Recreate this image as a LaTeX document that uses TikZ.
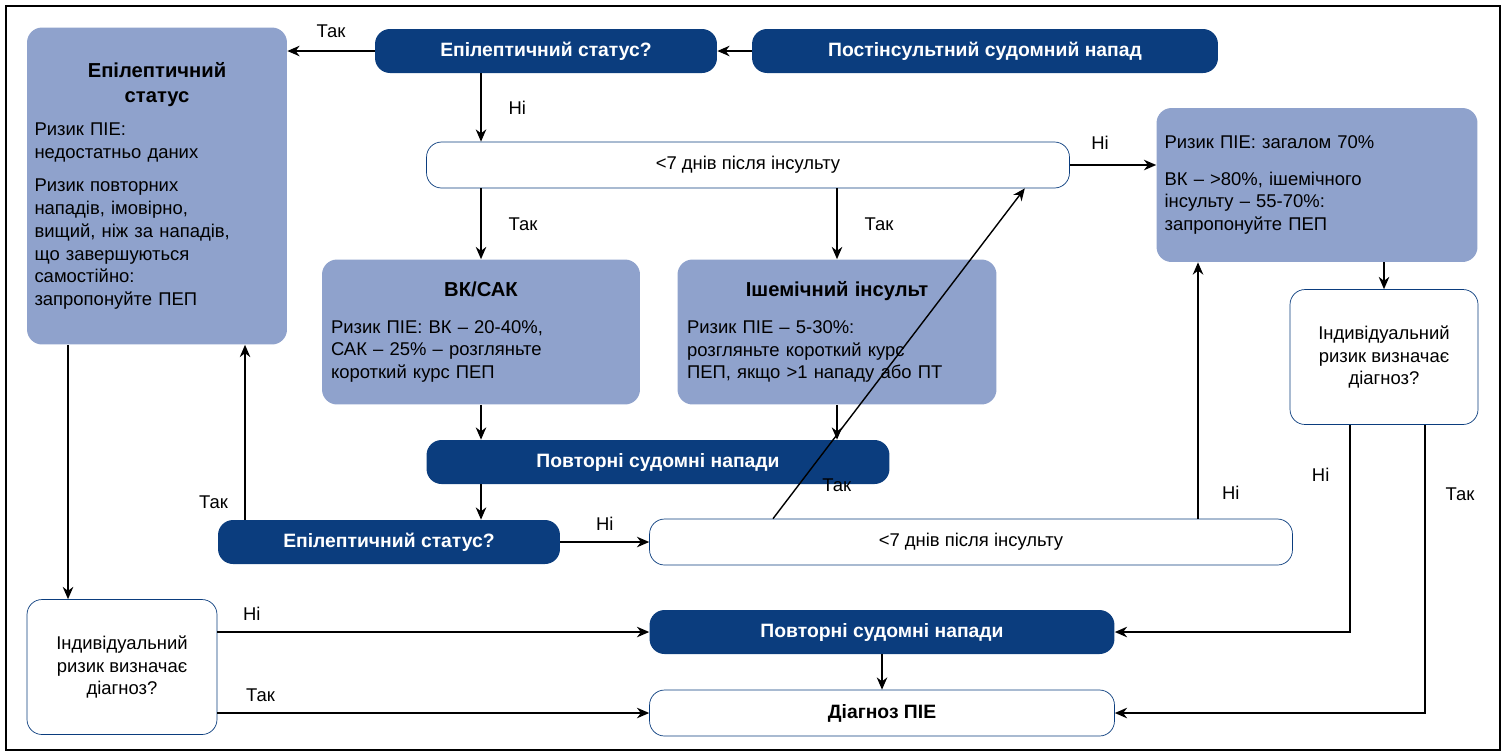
\documentclass[tikz,border=0pt]{standalone}
\usepackage{fontspec}
\setmainfont{Liberation Sans}
\usetikzlibrary{arrows.meta}
\definecolor{darkblue}{HTML}{0B3D7E}
\definecolor{lightblue}{HTML}{8FA2CC}
\tikzset{
  box/.style={rounded corners=3mm, inner sep=4pt, font=\fontsize{10.5}{13}\selectfont},
  dark/.style={box, fill=darkblue, text=white, font=\fontsize{11}{13}\selectfont\bfseries, minimum height=0.88cm},
  light/.style={box, fill=lightblue, text=black, align=left},
  plain/.style={box, draw=darkblue, fill=white, minimum height=0.92cm},
  lbl/.style={font=\fontsize{10.5}{13}\selectfont},
  arr/.style={-{Stealth[length=7pt,width=6pt]}, thick},
}
\begin{document}
\begin{tikzpicture}[x=0.02cm, y=-0.02cm]
			% Rahmen
			\useasboundingbox (0,0) rectangle (1506,755);
			\draw[thick] (6,6) rectangle (1500,750);
			
			% obere Zeile
			\node[dark, minimum width=6.84cm] (es1) at (546,51) {Епілептичний статус?};
			\node[dark, minimum width=9.32cm] (pisn) at (985,51) {Постінсультний судомний напад};
			\node[light, minimum width=5.2cm, minimum height=6.34cm, text width=4.9cm] (esbox) at (157,186)
				{{\centering\bfseries\fontsize{11.5}{14}\selectfont Епілептичний\\статус\par}\vspace{6pt}
				Ризик ПІЕ:\\недостатньо даних\par\vspace{6pt}
				Ризик повторних\\нападів, імовірно,\\вищий, ніж за нападів,\\що завершуються\\самостійно:\\запропонуйте ПЕП};
			
			% mittlere Zeile
			\node[plain, minimum width=12.86cm] (d7a) at (748,165) {<7 днів після інсульту};
			\node[light, minimum width=6.42cm, minimum height=3.08cm, text width=6.1cm] (rbox) at (1317,185)
				{Ризик ПІЕ: загалом 70\%\par\vspace{8pt}ВК – >80\%, ішемічного\\інсульту – 55-70\%:\\запропонуйте ПЕП};
			\node[light, minimum width=6.36cm, minimum height=2.9cm, text width=6.0cm] (vk) at (481,332)
				{{\centering\bfseries\fontsize{11.5}{14}\selectfont ВК/САК\par}\vspace{8pt}
				Ризик ПІЕ: ВК – 20-40\%,\\САК – 25\% – розгляньте\\короткий курс ПЕП};
			\node[light, minimum width=6.38cm, minimum height=2.9cm, text width=6.0cm] (isch) at (837,332)
				{{\centering\bfseries\fontsize{11.5}{14}\selectfont Ішемічний інсульт\par}\vspace{8pt}
				Ризик ПІЕ – 5-30\%:\\розгляньте короткий курс\\ПЕП, якщо >1 нападу або ПТ};
			\node[plain, minimum width=3.76cm, minimum height=2.7cm, align=center] (indr) at (1384,357)
				{Індивідуальний\\ризик визначає\\діагноз?};
			\node[dark, minimum width=9.26cm] (pov1) at (658,462) {Повторні судомні напади};
			\node[dark, minimum width=6.84cm] (es2) at (389,542) {Епілептичний статус?};
			\node[plain, minimum width=12.86cm] (d7b) at (971,542) {<7 днів після інсульту};
			
			% untere Zeile
			\node[plain, minimum width=3.8cm, minimum height=2.7cm, align=center] (indl) at (122,667)
				{Індивідуальний\\ризик визначає\\діагноз?};
			\node[dark, minimum width=9.3cm] (pov2) at (882,632) {Повторні судомні напади};
			\node[plain, minimum width=9.3cm, font=\fontsize{11}{13}\selectfont\bfseries] (diag) at (882,713) {Діагноз ПІЕ};
			
			% Pfeile
			\draw[arr] (pisn) -- (es1);
			\draw[arr] (es1) -- (es1.west -| esbox.east) node[lbl, midway, above=4pt] {Так};
			\draw[arr] (es1.south -| vk.north) -- (d7a.north -| vk.north) node[lbl, midway, right=12pt] {Ні};
			\draw[arr] (d7a.south -| vk.north) -- (vk.north) node[lbl, midway, right=12pt] {Так};
			\draw[arr] (d7a.south -| isch.north) -- (isch.north) node[lbl, midway, right=12pt] {Так};
			\draw[arr] (d7a.east) -- (d7a.east -| rbox.west) node[lbl, pos=0.35, above=5pt] {Ні};
			\draw[arr] (vk.south) -- (pov1.north -| vk.south);
			\draw[arr] (isch.south) -- (pov1.north -| isch.south);
			\draw[arr] (pov1.south -| vk.south) -- (es2.north -| vk.south);
			\draw[arr] ([xshift=-2.88cm]es2.north) -- ([xshift=-2.88cm]es2.north |- esbox.south) node[lbl, pos=0.1, left=6pt] {Так};
			\draw[arr] (es2) -- (d7b) node[lbl, midway, above=3pt] {Ні};
			\draw[arr] ([xshift=0.5cm]d7b.north -| d7a.south) -- ([xshift=-0.9cm]d7a.south east) node[lbl, pos=0.1, right=10pt] {Так};
			\draw[arr] (d7b.north -| 1198,0) -- (rbox.south -| 1198,0) node[lbl, pos=0.1, right=10pt] {Ні};
			\draw[arr] ([xshift=-1.78cm]esbox.south) -- ([xshift=-1.78cm]esbox.south |- indl.north);
			\draw[arr] (rbox.south -| indr.north) -- (indr.north);
			\draw[arr] ([xshift=-0.68cm]indr.south) |- (pov2.east) node[lbl, pos=0.12, left=8pt] {Ні};
			\draw[arr] ([xshift=0.82cm]indr.south) |- (diag.east) node[lbl, pos=0.12, right=8pt] {Так};
			\draw[arr] (indl.east |- pov2) -- (pov2.west) node[lbl, pos=0.08, above=3pt] {Ні};
			\draw[arr] (indl.east |- diag) -- (diag.west) node[lbl, pos=0.1, above=3pt] {Так};
			\draw[arr] (pov2) -- (diag);
\end{tikzpicture}
\end{document}
